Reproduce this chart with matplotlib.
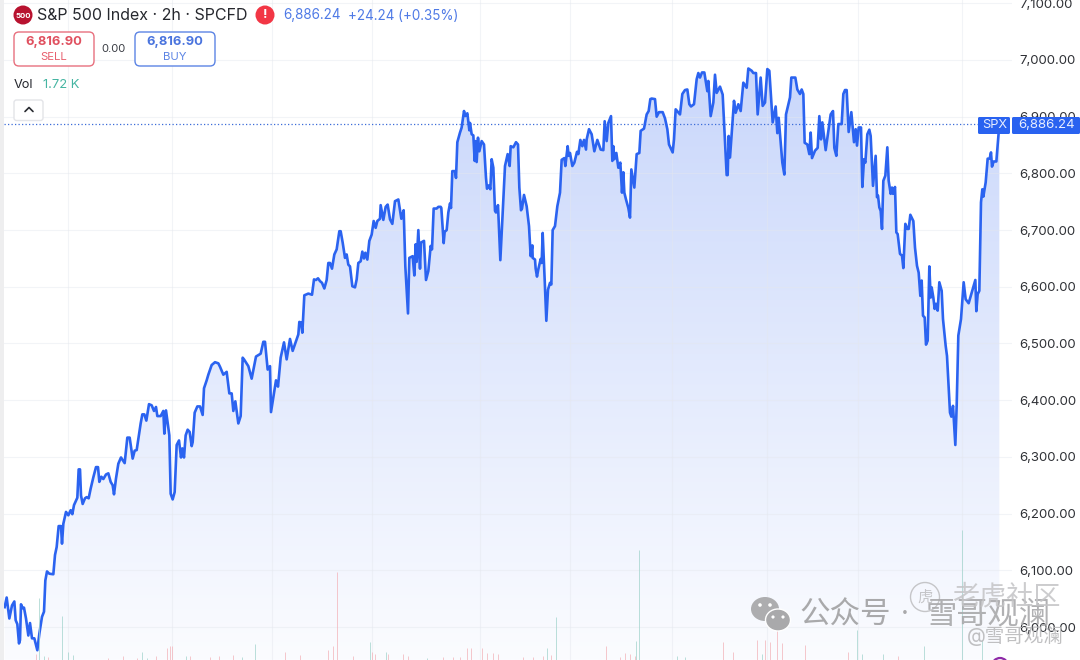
import numpy as np
import matplotlib
matplotlib.use('Agg')
import matplotlib.pyplot as plt
from matplotlib.patches import Circle, Ellipse, FancyBboxPatch, Polygon, Rectangle
from matplotlib.colors import LinearSegmentedColormap

plt.rcParams['font.family'] = ['Inter', 'Noto Sans CJK SC', 'DejaVu Sans']

# price series, position counted in bars
bars_a = [14,20,28,36,43,47,52,57,60,63,68,72,78,85,90,96,103,112,118,126,132,136,141,148,160,165,170,176,183,186,190,198,205,212,217,222,232,236,240,243,248,255,260,266,272,280,288,294,298,304,310,318,325,332,338,342,348,355,363,374,382,389,398,404,410,416,422,427,433,439,447,455,462,468,472,482,490,493,498,508,512,518,524,530,537,543,547,552,557,563,569,575,578,584,592,600,608,612,620,625,635,645,655]
prices_a = [6035,6052,6015,6038,6045,6012,6005,5971,5977,6040,6033,6034,6015,5985,6007,5980,5980,5959,5988,6018,6027,6082,6098,6094,6093,6127,6141,6178,6178,6147,6182,6203,6197,6206,6199,6215,6228,6278,6278,6232,6217,6227,6229,6227,6244,6264,6282,6282,6256,6265,6261,6269,6271,6256,6250,6234,6262,6288,6299,6289,6334,6334,6297,6311,6312,6335,6359,6375,6375,6364,6393,6391,6381,6388,6372,6372,6381,6341,6382,6338,6235,6225,6238,6321,6329,6299,6315,6299,6338,6348,6344,6319,6326,6378,6389,6389,6374,6421,6435,6445,6462,6467,6465]

bars_b = [660,670,680,688,695,700,706,715,722,728,732,745,755,768,782,790,795,803,810,813,828,834,842,852,860,870,878,895,898,903,907,913,925,936,942,948,954,960,966,973,980,985,990,996,1003,1010,1018,1022,1028,1035,1040,1045,1050,1057,1065,1070,1075,1082,1087,1092,1096,1102,1108,1115,1121,1127,1132,1140,1142,1150,1157,1163,1170,1177,1185,1195,1204,1211,1216,1224,1228,1238,1243,1247,1250,1255,1260,1263,1272,1278,1285,1292,1296,1301,1310,1315,1322]
prices_b = [6459,6445,6450,6412,6412,6381,6398,6359,6372,6475,6472,6460,6438,6477,6482,6503,6503,6454,6460,6379,6435,6424,6475,6502,6472,6508,6487,6516,6538,6537,6519,6585,6588,6586,6613,6612,6615,6610,6607,6597,6612,6642,6642,6632,6657,6666,6698,6698,6678,6651,6657,6639,6636,6601,6599,6613,6642,6645,6662,6650,6660,6648,6681,6692,6716,6704,6716,6720,6744,6718,6741,6745,6719,6711,6751,6754,6720,6735,6636,6553,6651,6654,6620,6675,6644,6700,6632,6678,6681,6612,6628,6672,6666,6738,6738,6741,6741]

bars_c = [1324,1331,1334,1340,1345,1350,1353,1357,1365,1368,1372,1380,1385,1392,1396,1402,1408,1410,1415,1420,1424,1427,1430,1434,1438,1445,1452,1458,1461,1467,1471,1475,1480,1485,1488,1494,1501,1507,1515,1523,1529,1532,1540,1548,1554,1558,1563,1566,1572,1580,1587,1592,1597,1598,1605,1607,1611,1615,1622,1625,1628,1634,1639,1644,1650,1654,1658,1665,1672,1680,1685,1693,1696,1703,1706,1710,1717,1723,1731,1735,1741,1747,1752,1758,1760,1767,1775,1783,1792,1802,1810,1814,1820,1825,1833,1837,1840,1843,1849,1855,1861,1866,1870,1873,1878,1885,1890,1894,1903,1910,1918,1922,1932,1940,1946,1951]
prices_c = [6739,6677,6697,6700,6731,6747,6739,6804,6804,6792,6855,6872,6881,6910,6901,6906,6876,6889,6869,6867,6822,6857,6820,6863,6839,6857,6851,6792,6773,6779,6772,6825,6810,6734,6731,6744,6647,6719,6813,6834,6813,6848,6846,6855,6851,6775,6735,6738,6762,6742,6707,6654,6673,6651,6648,6632,6618,6631,6649,6642,6695,6613,6540,6595,6607,6604,6700,6707,6742,6766,6824,6827,6813,6848,6831,6836,6813,6819,6838,6834,6859,6848,6859,6842,6860,6878,6869,6839,6859,6842,6841,6892,6857,6889,6901,6822,6848,6825,6836,6810,6819,6766,6802,6766,6754,6739,6722,6807,6775,6834,6836,6875,6879,6904,6910,6931]

bars_d = [1955,1965,1970,1977,1988,1995,2002,2007,2018,2022,2027,2040,2047,2055,2062,2068,2073,2082,2090,2095,2100,2106,2113,2122,2125,2132,2140,2145,2150,2160,2168,2175,2180,2183,2186,2190,2196,2202,2207,2215,2222,2230,2240,2245,2255,2260,2268,2273,2282,2288,2295,2302,2308,2318,2327,2332,2336,2347,2353,2358,2370,2374,2386,2392,2400,2405,2410,2414,2422,2428,2432,2436,2445,2453,2458,2463,2467,2477,2485,2492,2499,2503,2509,2515,2525,2530,2535,2540,2546,2554]
prices_d = [6932,6931,6900,6908,6908,6897,6878,6851,6837,6860,6913,6904,6940,6947,6948,6922,6918,6922,6966,6977,6969,6978,6978,6945,6963,6901,6925,6974,6942,6953,6939,6854,6797,6797,6866,6828,6878,6928,6907,6922,6910,6960,6951,6985,6981,6977,6977,6904,6969,6919,6925,6984,6981,6890,6918,6871,6898,6819,6798,6904,6934,6969,6969,6948,6940,6948,6940,6854,6851,6834,6872,6827,6840,6845,6901,6860,6890,6841,6875,6904,6910,6845,6831,6887,6887,6940,6947,6947,6873,6908]

bars_e = [2562,2567,2571,2576,2583,2587,2592,2596,2602,2608,2612,2619,2627,2631,2634,2638,2642,2646,2650,2656,2662,2666,2672,2676,2679,2685,2689,2693,2700,2706,2710,2716,2722,2726,2731,2740,2745,2751,2756,2761,2765,2769,2774,2778,2783,2788,2792,2795,2800,2804,2808,2813,2818,2825,2829,2837,2841,2850,2854,2859,2866,2870,2875,2883,2891,2897,2906,2918,2926,2929,2933,2938,2943,2947,2950,2957,2963,2969,2973,2976,2981,2989,2998]
prices_e = [6855,6878,6849,6881,6881,6776,6825,6819,6869,6877,6866,6778,6831,6758,6761,6740,6734,6702,6787,6796,6846,6787,6764,6775,6764,6776,6696,6693,6658,6655,6633,6711,6702,6702,6727,6716,6669,6637,6625,6584,6611,6549,6546,6498,6505,6636,6581,6599,6581,6561,6570,6558,6608,6593,6543,6496,6478,6378,6371,6390,6321,6390,6514,6543,6608,6578,6571,6596,6612,6557,6587,6593,6749,6772,6759,6784,6826,6826,6837,6812,6821,6821,6886.24]

# volume, split by candle direction (arbitrary units, the scale is not shown)
vol_up_bars = [117,132,186,204,219,426,442,558,726,765,1110,1158,1281,1641,1668,1908,1917,2031,2055,2286,2571,2586,2649,2772,2886,2946]
vol_up = [62,4,44,8,5,8,2,4,3,16,18,8,2,12,43,19,110,4,3,6,30,6,6,14,130,20]
vol_down_bars = [108,144,324,369,411,468,501,510,516,570,630,657,699,855,900,984,999,1011,1059,1116,1125,1164,1209,1224,1329,1359,1380,1401,1413,1446,1461,1479,1494,1569,1599,1629,1653,1818,1860,1875,1890,1905,2169,2199,2271,2295,2310,2331,2346,2415,2544,2694]
vol_down = [6,3,2,4,2,4,12,14,14,4,3,4,5,8,5,10,14,88,4,8,6,6,6,4,3,3,3,12,12,12,7,7,6,3,3,4,5,14,3,7,6,4,18,8,20,20,18,30,17,15,8,4]

y_ticks = [6000,6100,6200,6300,6400,6500,6600,6700,6800,6900,7000,7100]
time_grid = [204,516,816,1116,1440,1710,2016,2301,2574,2886]
last_price = 6886.24
title = 'S&P 500 Index · 2h · SPCFD'

bars = np.array(bars_a + bars_b + bars_c + bars_d + bars_e, dtype=float)
prices = np.array(prices_a + prices_b + prices_c + prices_d + prices_e, dtype=float)

LINE = '#2b63f0'
BLUE_TXT = '#4f7ae6'
RED_TXT = '#e0505f'
DARK = '#26282e'

fig = plt.figure(figsize=(10.8, 6.6), dpi=100, facecolor='white')
ax = fig.add_axes([4 / 1080, 0, 1008 / 1080, 1])
ax.set_facecolor('white')
ax.set_xlim(12, 3036)
ax.set_ylim(5941.8, 7105.8)

# gradient under the line
cmap = LinearSegmentedColormap.from_list('area', ['#fbfcff', '#c8d6fb'])
grad = np.linspace(1.08, 0, 256).reshape(-1, 1)
img = ax.imshow(grad, cmap=cmap, vmin=0, vmax=1, aspect='auto', zorder=1,
                extent=[12, 3036, 5941.8, 7105.8], origin='upper')
poly_x = np.concatenate([[bars[0]], bars, [bars[-1]]])
poly_y = np.concatenate([[5941.8], prices, [5941.8]])
clip = Polygon(np.column_stack([poly_x, poly_y]), closed=True, transform=ax.transData, fc='none', ec='none')
ax.add_patch(clip)
img.set_clip_path(clip)

ax.set_yticks(y_ticks)
ax.set_yticklabels(['{:,.2f}'.format(v) for v in y_ticks], fontsize=9.5, color='#2f3136')
ax.yaxis.tick_right()
ax.set_xticks(time_grid)
ax.set_xticklabels([])
ax.tick_params(axis='both', length=0)
ax.tick_params(axis='y', pad=5.5)
ax.grid(True, color='#e4e7ee', lw=0.8, alpha=0.45, zorder=2)
ax.set_axisbelow(False)
for s in ax.spines.values():
    s.set_visible(False)

ax.plot(bars, prices, color=LINE, lw=1.9, solid_joinstyle='round', zorder=4)
ax.plot([12, 2934], [last_price, last_price], color='#3a6bd8', lw=0.9, ls=(0, (1, 1.8)), zorder=3)

# volume pane on the same bars
ax_vol = fig.add_axes([4 / 1080, 0, 1008 / 1080, 1], sharex=ax)
ax_vol.set_ylim(0, 660)
ax_vol.axis('off')
ax_vol.patch.set_alpha(0)
ax_vol.vlines(vol_up_bars, 0, vol_up, color='#a3d4cd', lw=0.7, alpha=0.75)
ax_vol.vlines(vol_down_bars, 0, vol_down, color='#f3b4ba', lw=0.7, alpha=0.75)

# everything around the chart: header, price tag, watermark
ui = fig.add_axes([0, 0, 1, 1])
ui.set_xlim(0, 1080)
ui.set_ylim(660, 0)
ui.axis('off')
ui.patch.set_alpha(0)

ui.add_patch(Rectangle((0, 0), 4, 660, fc='#eeeeef', ec='none'))

ui.add_patch(Circle((23, 15), 9.5, fc='#b8122f', ec='none'))
ui.text(23, 15.5, '500', color='white', fontsize=5.6, fontweight='bold', ha='center', va='center')
ui.text(37, 15.5, title, color=DARK, fontsize=11.5, ha='left', va='center')
ui.add_patch(Circle((265, 15), 9.5, fc='#f23645', ec='none'))
ui.text(265, 15, '!', color='white', fontsize=9.5, fontweight='bold', ha='center', va='center')
ui.text(283, 15.5, '6,886.24', color=BLUE_TXT, fontsize=9.7, ha='left', va='center')
ui.text(348, 15.5, '+24.24 (+0.35%)', color=BLUE_TXT, fontsize=9.7, ha='left', va='center')

ui.add_patch(FancyBboxPatch((14, 32), 80, 34, boxstyle='round,pad=0,rounding_size=5', fc='white', ec='#e8707e', lw=1))
ui.text(54, 42.5, '6,816.90', color=RED_TXT, fontsize=9.3, fontweight='bold', ha='center', va='center')
ui.text(54, 57, 'SELL', color='#e8606e', fontsize=8.2, ha='center', va='center')
ui.text(114, 49.5, '0.00', color='#3a3d44', fontsize=8, ha='center', va='center')
ui.add_patch(FancyBboxPatch((135, 32), 80, 34, boxstyle='round,pad=0,rounding_size=5', fc='white', ec='#5c84e4', lw=1))
ui.text(175, 42.5, '6,816.90', color='#4a74de', fontsize=9.3, fontweight='bold', ha='center', va='center')
ui.text(175, 57, 'BUY', color='#5c84e4', fontsize=8.2, ha='center', va='center')

ui.text(14, 84.5, 'Vol', color=DARK, fontsize=9.2, ha='left', va='center')
ui.text(43, 84.5, '1.72 K', color='#45b5a2', fontsize=9.4, ha='left', va='center')
ui.add_patch(FancyBboxPatch((14, 100), 29, 20.5, boxstyle='round,pad=0,rounding_size=2.5', fc='white', ec='#e3e4e8', lw=1))
ui.plot([25, 29, 33], [111.5, 107.5, 111.5], color='#2a2c31', lw=1.2, solid_capstyle='round')

ui.add_patch(FancyBboxPatch((978, 117), 32, 17, boxstyle='round,pad=0,rounding_size=1.5', fc='#2962f0', ec='none'))
ui.text(994.5, 125.5, 'SPX', color='#e8eeff', fontsize=9.2, ha='center', va='center')
ui.add_patch(FancyBboxPatch((1012, 117), 68, 17, boxstyle='round,pad=0,rounding_size=1.5', fc='#2962f0', ec='none'))
ui.text(1075, 125.5, '{:,.2f}'.format(last_price), color='#e8eeff', fontsize=9.5, ha='right', va='center')

# watermark
ui.add_patch(Ellipse((765, 609), 28, 24, fc='#a9a9ab', ec='none', alpha=0.95))
ui.add_patch(Ellipse((778, 620), 25, 22, fc='#a9a9ab', ec='white', lw=1))
for cx, cy, r in [(760, 605, 1.8), (770, 605, 1.8), (773, 617, 1.6), (783, 617, 1.6)]:
    ui.add_patch(Circle((cx, cy), r, fc='white', ec='none'))
ui.text(845, 615, '公众号', color='#a9a9ab', fontsize=22, ha='center', va='center', fontweight='medium')
ui.text(905, 615, '·', color='#a9a9ab', fontsize=20, ha='center', va='center')
ui.text(988, 615, '雪哥观澜', color='#a9a9ab', fontsize=22.5, ha='center', va='center', alpha=0.9)
ui.add_patch(Circle((925, 597), 14.5, fc='none', ec='#b9b9bb', lw=1, alpha=0.8))
ui.text(925, 597, '虎', color='#b9b9bb', fontsize=11, ha='center', va='center', alpha=0.8)
ui.text(1006, 597, '老虎社区', color='#c4c4c6', fontsize=19.5, ha='center', va='center', alpha=0.85, style='italic')
ui.text(1015, 636, '@雪哥观澜', color='#b9b9bb', fontsize=14, ha='center', va='center', alpha=0.9)
ui.add_patch(Circle((1000, 666), 8, fc='none', ec='#8e2aa8', lw=1.6))

fig.savefig('out.png', dpi=100)
